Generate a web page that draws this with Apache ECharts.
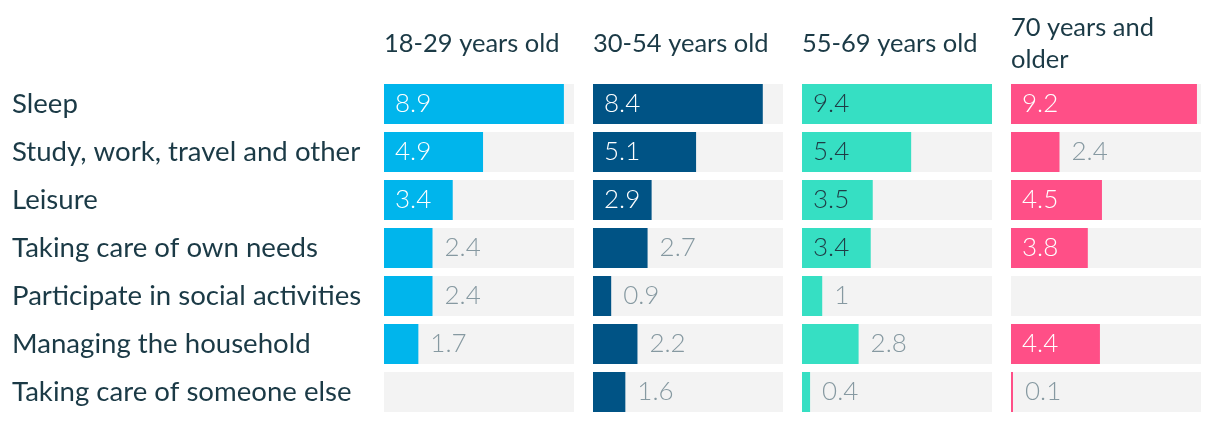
<!DOCTYPE html>
<html><head><meta charset="utf-8">
<script src="https://cdn.jsdelivr.net/npm/echarts@6/dist/echarts.min.js"></script>
<style>html,body{margin:0;padding:0;background:#fff}#c{width:1220px;height:422px}</style>
</head><body><div id="c"></div>
<script>
const categories = ["Sleep","Study, work, travel and other","Leisure","Taking care of own needs","Participate in social activities","Managing the household","Taking care of someone else"];
const groups = ["18-29 years old","30-54 years old","55-69 years old","70 years and\nolder"];
const age18_29 = [8.9, 4.9, 3.4, 2.4, 2.4, 1.7, null];
const age30_54 = [8.4, 5.1, 2.9, 2.7, 0.9, 2.2, 1.6];
const age55_69 = [9.4, 5.4, 3.5, 3.4, 1, 2.8, 0.4];
const age70plus = [9.2, 2.4, 4.5, 3.8, null, 4.4, 0.1];
const seriesValues = [age18_29, age30_54, age55_69, age70plus];

const colors = ['#00b5ec', '#005385', '#36dfc3', '#ff4f87'];
const insideText = ['#ffffff', '#ffffff', '#1f3b45', '#ffffff'];
const panelLeft = [384, 593, 802, 1011];
const panelW = 190;
const FONT = 'Lato, "Noto Sans", sans-serif';

const chart = echarts.init(document.getElementById('c'), null, {renderer: 'canvas'});
const grid = [], xAxis = [], yAxis = [], series = [];
seriesValues.forEach((vals, i) => {
  grid.push({left: panelLeft[i], width: panelW, top: 80, height: 336, containLabel: false});
  xAxis.push({type: 'value', gridIndex: i, min: 0, max: 9.4, show: false});
  yAxis.push({type: 'category', gridIndex: i, data: categories, inverse: true,
    axisLine: {show: false}, axisTick: {show: false}, splitLine: {show: false},
    axisLabel: {show: i === 0, align: 'left', margin: 372, fontSize: 27.6, color: '#1b3a46', fontFamily: FONT}});
  series.push({
    type: 'bar', xAxisIndex: i, yAxisIndex: i, barWidth: 40,
    showBackground: true, backgroundStyle: {color: '#f3f3f3'},
    itemStyle: {color: colors[i]},
    data: vals.map(v => v == null ? '-' : {value: v, label: v >= 2.9
      ? {position: 'insideLeft', distance: 11, color: insideText[i]}
      : {position: 'right', distance: 12, color: '#8699a1'}}),
    label: {show: true, fontSize: 26, fontWeight: 300, fontFamily: FONT, formatter: '{c}'},
    silent: true, animation: false
  });
});
chart.setOption({
  animation: false, grid, xAxis, yAxis, series,
  graphic: groups.map((g, i) => ({type: 'text', x: panelLeft[i], y: 44,
    style: {text: g, font: '400 25.5px ' + FONT, fill: '#1b3a46', lineHeight: 32, verticalAlign: 'middle', align: 'left'}}))
});
</script></body></html>
